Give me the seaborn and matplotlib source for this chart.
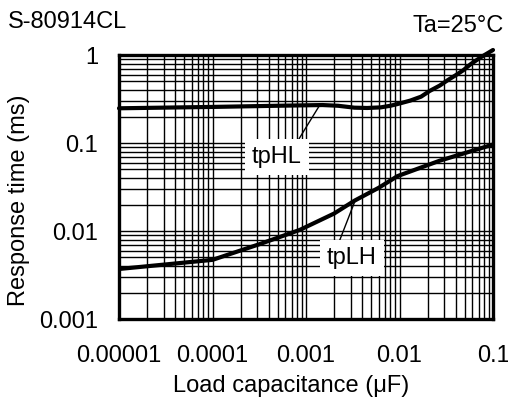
import matplotlib
matplotlib.use("Agg")
import matplotlib.pyplot as plt
import pandas as pd
import seaborn as sns

# data (log-log, load capacitance in uF, response time in ms)
cap_hl = [1e-5, 1e-4, 5e-4, 1.5e-3, 2.2e-3, 3.3e-3, 4.5e-3, 6.3e-3, 8e-3, 9.5e-3, 0.013,
          0.017, 0.021, 0.027, 0.033, 0.040, 0.048, 0.058, 0.075, 0.1]
tphl = [0.248, 0.257, 0.265, 0.270, 0.265, 0.252, 0.250, 0.254, 0.265, 0.277, 0.303,
        0.336, 0.39, 0.45, 0.52, 0.59, 0.67, 0.79, 0.95, 1.14]

cap_lh = [1e-5, 1e-4, 3.2e-4, 8.6e-4, 2e-3, 3.3e-3, 6e-3, 9.5e-3, 0.027, 0.1]
tplh = [0.0037, 0.0047, 0.0071, 0.0103, 0.0158, 0.0221, 0.031, 0.042, 0.063, 0.096]

x_ticks = [1e-5, 1e-4, 1e-3, 1e-2, 1e-1]
x_ticklabels = ["0.00001", "0.0001", "0.001", "0.01", "0.1"]
y_ticks = [1e-3, 1e-2, 1e-1, 1]
y_ticklabels = ["0.001", "0.01", "0.1", "1"]

df_hl = pd.DataFrame({"cap": cap_hl, "t": tphl})
df_lh = pd.DataFrame({"cap": cap_lh, "t": tplh})

sns.set_style("white")
plt.rcParams["font.family"] = ["Liberation Sans", "DejaVu Sans"]
plt.rcParams["text.color"] = "black"
plt.rcParams["axes.labelcolor"] = "black"
plt.rcParams["xtick.color"] = "black"
plt.rcParams["ytick.color"] = "black"
FS = 17

fig = plt.figure(figsize=(5.08, 4.04), dpi=100)
ax = fig.add_axes([119 / 508, 1 - 319 / 404, 374 / 508, 264 / 404])

sns.lineplot(data=df_hl, x="cap", y="t", ax=ax, color="black", lw=3, clip_on=False, zorder=5)
sns.lineplot(data=df_lh, x="cap", y="t", ax=ax, color="black", lw=3, zorder=5)

ax.set_xscale("log")
ax.set_yscale("log")
ax.set_xlim(1e-5, 1e-1)
ax.set_ylim(1e-3, 1)

ax.grid(which="both", color="black", lw=1.0)
ax.set_axisbelow(True)
for s in ax.spines.values():
    s.set_color("black")
    s.set_linewidth(2.4)
    s.set_zorder(6)

ax.set_xticks(x_ticks)
ax.set_xticklabels(x_ticklabels)
ax.set_yticks(y_ticks)
ax.set_yticklabels(y_ticklabels)
ax.tick_params(which="both", length=0)
ax.tick_params(axis="x", pad=19, labelsize=FS)
ax.tick_params(axis="y", pad=15, labelsize=FS)

ax.set_xlabel("Load capacitance (\u03bcF)", fontsize=FS, va="center")
ax.xaxis.set_label_coords(0.459, -0.254)
ax.set_ylabel("Response time (ms)", fontsize=FS, va="center")
ax.yaxis.set_label_coords(-0.267, 0.45)

# curve labels with leader lines
ax.annotate("tpHL", xy=(1.38e-3, 0.262), xytext=(4.9e-4, 0.069), fontsize=FS,
            ha="center", va="center", zorder=7,
            bbox=dict(boxstyle="square,pad=0.3", fc="white", ec="none"),
            arrowprops=dict(arrowstyle="-", color="black", lw=1, relpos=(0.85, 1.0),
                            shrinkA=0, shrinkB=0))
ax.annotate("tpLH", xy=(3.34e-3, 0.0219), xytext=(3.1e-3, 0.0049), fontsize=FS,
            ha="center", va="center", zorder=7,
            bbox=dict(boxstyle="square,pad=0.3", fc="white", ec="none"),
            arrowprops=dict(arrowstyle="-", color="black", lw=1, relpos=(0.2, 1.0),
                            shrinkA=0, shrinkB=0))

fig.text(8 / 508, 1 - 22 / 404, "S-80914CL", fontsize=FS, ha="left", va="center")
fig.text(504 / 508, 1 - 26 / 404, "Ta=25\u00b0C", fontsize=FS, ha="right", va="center")

fig.savefig("out.png", dpi=100, facecolor="white")
